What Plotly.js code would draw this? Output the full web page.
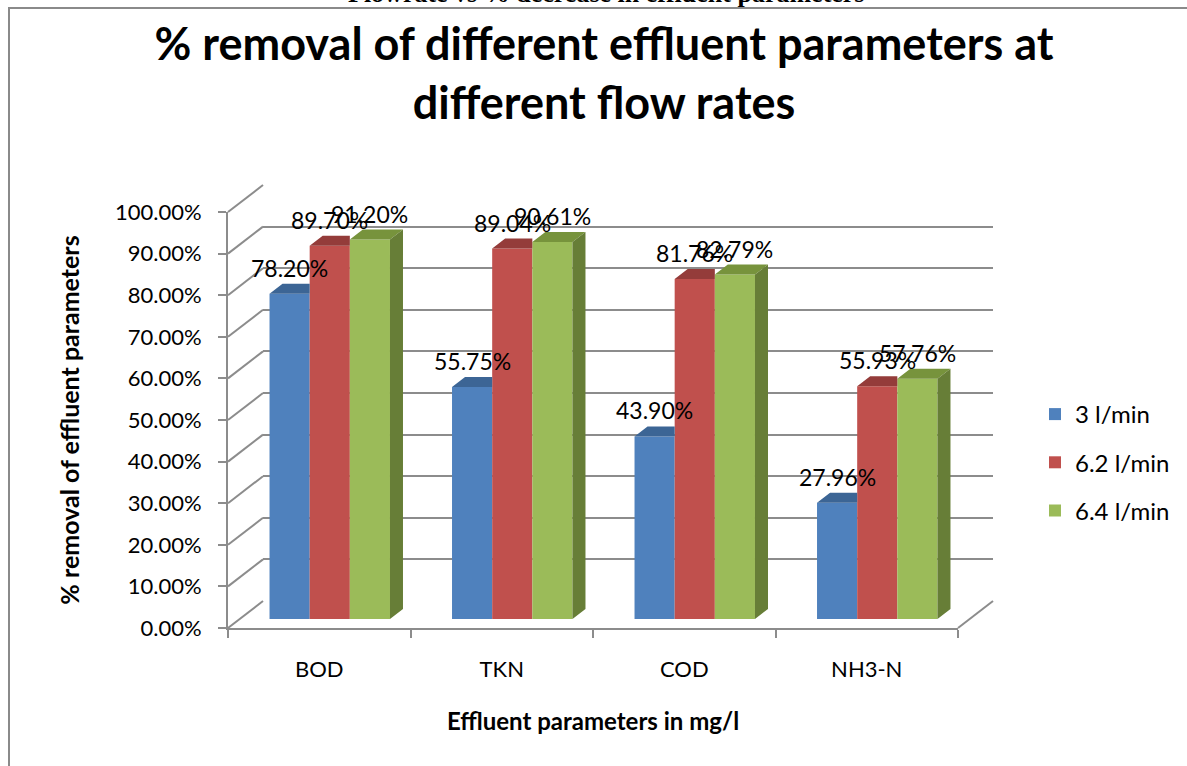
<!DOCTYPE html>
<html>
<head>
<meta charset="utf-8">
<script src="https://cdn.plot.ly/plotly-3.0.1.min.js"></script>
<style>html,body{margin:0;padding:0;background:#fff;}#chart{width:1187px;height:766px;}</style>
</head>
<body>
<div id="chart"></div>
<script>
// ---------- data ----------
const categories = ['BOD', 'TKN', 'COD', 'NH3-N'];
const seriesNames = ['3 l/min', '6.2 l/min', '6.4 l/min'];
const flow3 = [78.20, 55.75, 43.90, 27.96];
const flow62 = [89.70, 89.04, 81.76, 55.93];
const flow64 = [91.20, 90.61, 82.79, 57.76];
const yTicks = [0, 10, 20, 30, 40, 50, 60, 70, 80, 90, 100];
const chartTitle = '% removal of different effluent parameters at<br>different flow rates';
const yTitle = '% removal of effluent parameters';
const xTitle = 'Effluent parameters in mg/l';
const pageHeading = 'Flowrate vs % decrease in effluent parameters';

// ---------- styling / geometry ----------
const W = 1187, H = 766;
const FONT = 'Lato, "Open Sans", sans-serif';
const frontColors = ['#4F81BD', '#C0504D', '#9BBB59'];
const topColors = ['#3C6595', '#943C3A', '#77933C'];
const sideColor = '#677E37';
const wallColor = '#8c8c8c';
const FRONT = {x0: 228, x1: 958, y0: 628, y100: 212};
const BAR_SHIFT = {dx: 10.5, dy: -9};
const BACK_SHIFT = {dx: 35, dy: -27};
const BAR_DEPTH = {dx: 13, dy: -10};
const BAR_W = 0.22;

const pxPerCat = (FRONT.x1 - FRONT.x0) / categories.length;
const pxPerPct = (FRONT.y0 - FRONT.y100) / 100;
const ddx = BAR_DEPTH.dx / pxPerCat;
const ddy = -BAR_DEPTH.dy / pxPerPct;

function xdom(shift) { return [(FRONT.x0 + shift) / W, (FRONT.x1 + shift) / W]; }
function ydom(shift) { return [1 - (FRONT.y0 + shift) / H, 1 - (FRONT.y100 + shift) / H]; }
function px(x) { return x / W; }
function py(y) { return 1 - y / H; }

const series = [flow3, flow62, flow64];
const idx = categories.map((_, i) => i);

const traces = [];
// invisible trace so the back-wall subplot (gridlines) is drawn
traces.push({
  type: 'scatter', mode: 'markers', x: idx, y: flow3, xaxis: 'x', yaxis: 'y',
  marker: {opacity: 0}, showlegend: false, hoverinfo: 'skip'
});
// front faces (bars)
series.forEach((vals, s) => {
  traces.push({
    type: 'bar', x: idx, y: vals, xaxis: 'x2', yaxis: 'y2',
    name: seriesNames[s], legendgroup: 'g' + s,
    width: BAR_W, offset: (s - 1.5) * BAR_W,
    marker: {color: frontColors[s], line: {width: 0}},
    hoverinfo: 'skip'
  });
});
// top faces
series.forEach((vals, s) => {
  const xs = [], ys = [];
  vals.forEach((v, i) => {
    const x0 = i + (s - 1.5) * BAR_W, x1 = x0 + BAR_W;
    if (s < series.length - 1) {
      xs.push(x0, x1, x1, x0 + ddx, x0, null);
      ys.push(v, v, v + ddy, v + ddy, v, null);
    } else {
      xs.push(x0, x1, x1 + ddx, x0 + ddx, x0, null);
      ys.push(v, v, v + ddy, v + ddy, v, null);
    }
  });
  traces.push({
    type: 'scatter', mode: 'lines', x: xs, y: ys, xaxis: 'x2', yaxis: 'y2',
    fill: 'toself', fillcolor: topColors[s], line: {width: 0},
    showlegend: false, legendgroup: 'g' + s, hoverinfo: 'skip'
  });
});
// side face of last series
(function () {
  const s = series.length - 1, vals = series[s];
  const xs = [], ys = [];
  vals.forEach((v, i) => {
    const x1 = i + (s - 1.5) * BAR_W + BAR_W;
    xs.push(x1, x1, x1 + ddx, x1 + ddx, x1, null);
    ys.push(0, v, v + ddy, ddy, 0, null);
  });
  traces.push({
    type: 'scatter', mode: 'lines', x: xs, y: ys, xaxis: 'x2', yaxis: 'y2',
    fill: 'toself', fillcolor: sideColor, line: {width: 0},
    showlegend: false, legendgroup: 'g' + s, hoverinfo: 'skip'
  });
})();
// invisible trace registering categories on the front axis
traces.push({
  type: 'scatter', mode: 'markers', x: categories, y: flow3, xaxis: 'x3', yaxis: 'y3',
  marker: {opacity: 0}, showlegend: false, hoverinfo: 'skip'
});

// data labels
const annotations = [];
series.forEach((vals, s) => {
  vals.forEach((v, i) => {
    annotations.push({
      xref: 'x2', yref: 'y2', x: i + (s - 1) * BAR_W, y: v, yshift: 26,
      text: v.toFixed(2) + '%', showarrow: false,
      font: {family: FONT, size: 23, color: '#000'}
    });
  });
});
annotations.push({
  xref: 'paper', yref: 'paper', x: px(606), y: py(-7), xanchor: 'center', yanchor: 'middle',
  text: pageHeading, showarrow: false,
  font: {family: '"Liberation Serif", "Times New Roman", serif', size: 26, color: '#000', weight: 'bold'}
});

// wall / floor edges
const shapes = [{
  type: 'rect', xref: 'paper', yref: 'paper', x0: px(9), x1: 1.05, y0: -0.05, y1: py(8),
  line: {color: '#8a8a8a', width: 2}, fillcolor: 'rgba(0,0,0,0)', layer: 'below'
}];
yTicks.forEach(v => {
  const yf = FRONT.y0 - v * pxPerPct;
  shapes.push({
    type: 'line', xref: 'paper', yref: 'paper', layer: 'below',
    x0: px(FRONT.x0), y0: py(yf), x1: px(FRONT.x0 + BACK_SHIFT.dx), y1: py(yf + BACK_SHIFT.dy),
    line: {color: wallColor, width: 2}
  });
});
shapes.push({
  type: 'line', xref: 'paper', yref: 'paper', layer: 'below',
  x0: px(FRONT.x1), y0: py(FRONT.y0), x1: px(FRONT.x1 + BACK_SHIFT.dx), y1: py(FRONT.y0 + BACK_SHIFT.dy),
  line: {color: wallColor, width: 2}
});

const hidden = {showgrid: false, zeroline: false, showline: false, showticklabels: false, ticks: '', fixedrange: true};

const layout = {
  width: W, height: H, autosize: false,
  margin: {l: 0, r: 0, t: 0, b: 0, pad: 0},
  paper_bgcolor: '#fff', plot_bgcolor: 'rgba(0,0,0,0)',
  font: {family: FONT, color: '#000'},
  title: {
    text: chartTitle, x: px(604), xanchor: 'center', y: py(60), yanchor: 'middle',
    font: {family: FONT, size: 45, color: '#000', weight: 'bold'}
  },
  barmode: 'overlay',
  showlegend: true,
  legend: {
    x: px(1035), y: py(392), xanchor: 'left', yanchor: 'top',
    font: {family: FONT, size: 24, color: '#000'},
    tracegroupgap: 14, bgcolor: 'rgba(0,0,0,0)'
  },
  // back wall
  xaxis: Object.assign({}, hidden, {domain: xdom(BACK_SHIFT.dx), range: [-0.5, 3.5], anchor: 'y'}),
  yaxis: Object.assign({}, hidden, {
    domain: ydom(BACK_SHIFT.dy), range: [0, 100], anchor: 'x',
    showgrid: true, gridcolor: wallColor, gridwidth: 2, tickmode: 'array', tickvals: yTicks
  }),
  // bar plane
  xaxis2: Object.assign({}, hidden, {domain: xdom(BAR_SHIFT.dx), range: [-0.5, 3.5], anchor: 'y2'}),
  yaxis2: Object.assign({}, hidden, {domain: ydom(BAR_SHIFT.dy), range: [0, 100], anchor: 'x2'}),
  // front axes
  xaxis3: {
    domain: xdom(0), anchor: 'y3', type: 'category', categoryorder: 'array', categoryarray: categories,
    range: [-0.5, 3.5], tickson: 'boundaries', ticks: 'outside', ticklen: 8, tickwidth: 2, tickcolor: wallColor,
    showline: true, linecolor: wallColor, linewidth: 2, showgrid: false, zeroline: false, fixedrange: true,
    tickfont: {family: FONT, size: 22, color: '#000'}, ticklabelstandoff: 21,
    title: {text: xTitle, font: {family: FONT, size: 24, color: '#000', weight: 'bold'}, standoff: 32}
  },
  yaxis3: {
    domain: ydom(0), anchor: 'x3', range: [0, 100], tickmode: 'array', tickvals: yTicks,
    ticktext: yTicks.map(v => v.toFixed(2) + '%'),
    ticks: 'outside', ticklen: 8, tickwidth: 2, tickcolor: wallColor,
    showline: true, linecolor: wallColor, linewidth: 2, showgrid: false, zeroline: false, fixedrange: true,
    tickfont: {family: FONT, size: 22, color: '#000'}, ticklabelstandoff: 12,
    title: {text: yTitle, font: {family: FONT, size: 25, color: '#000', weight: 'bold'}, standoff: 28}
  },
  annotations: annotations,
  shapes: shapes
};

Plotly.newPlot('chart', traces, layout, {staticPlot: true, displayModeBar: false});
</script>
</body>
</html>
